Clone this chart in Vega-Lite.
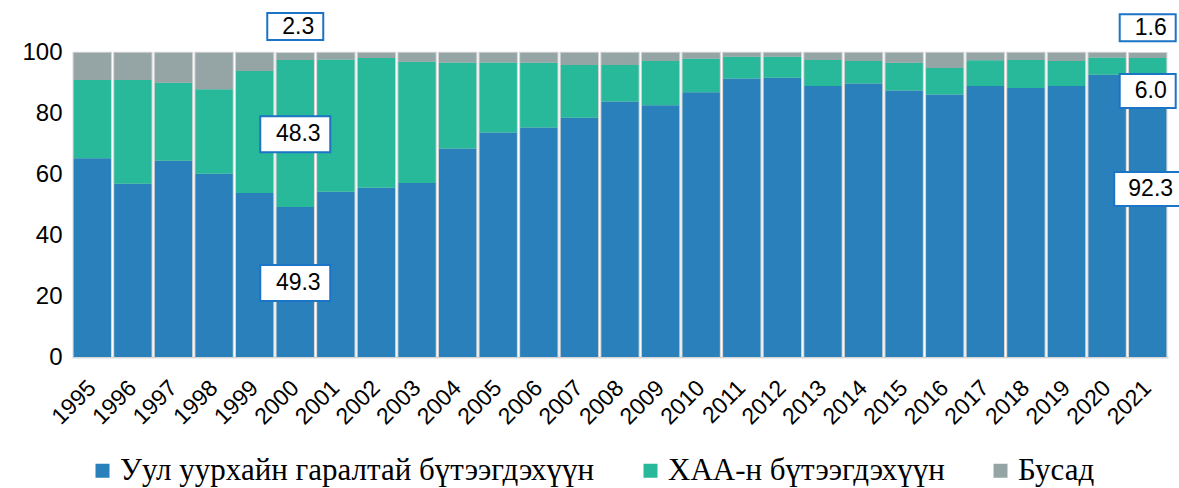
{
  "$schema": "https://vega.github.io/schema/vega-lite/v6.json",
  "width": 1096,
  "height": 356,
  "autosize": "none",
  "padding": {"left": 72, "top": 1, "right": 11, "bottom": 131},
  "background": "white",
  "config": {
    "view": {"stroke": null},
    "font": "Liberation Sans",
    "axisY": {"domain": false, "ticks": false, "tickSize": 0, "grid": false, "labelFontSize": 24, "labelPadding": 10, "labelColor": "#000000", "tickCount": 6, "labelFont": "Liberation Sans"},
    "axisX": {"domain": true, "domainColor": "#d9d9d9", "domainWidth": 2, "ticks": false, "tickSize": 0, "grid": false, "labelAngle": -45, "labelAlign": "right", "labelBaseline": "middle", "labelPadding": 27, "labelFontSize": 23, "labelColor": "#000000", "labelFont": "Liberation Sans"}
  },
  "datasets": {
    "shares": [
      {"year": "1995", "cat": "Уул уурхайн гаралтай бүтээгдэхүүн", "k": 1, "value": 65.3},
      {"year": "1995", "cat": "ХАА-н бүтээгдэхүүн", "k": 2, "value": 25.7},
      {"year": "1995", "cat": "Бусад", "k": 3, "value": 9.0},
      {"year": "1996", "cat": "Уул уурхайн гаралтай бүтээгдэхүүн", "k": 1, "value": 56.9},
      {"year": "1996", "cat": "ХАА-н бүтээгдэхүүн", "k": 2, "value": 34.1},
      {"year": "1996", "cat": "Бусад", "k": 3, "value": 9.0},
      {"year": "1997", "cat": "Уул уурхайн гаралтай бүтээгдэхүүн", "k": 1, "value": 64.5},
      {"year": "1997", "cat": "ХАА-н бүтээгдэхүүн", "k": 2, "value": 25.6},
      {"year": "1997", "cat": "Бусад", "k": 3, "value": 9.9},
      {"year": "1998", "cat": "Уул уурхайн гаралтай бүтээгдэхүүн", "k": 1, "value": 60.2},
      {"year": "1998", "cat": "ХАА-н бүтээгдэхүүн", "k": 2, "value": 27.8},
      {"year": "1998", "cat": "Бусад", "k": 3, "value": 12.0},
      {"year": "1999", "cat": "Уул уурхайн гаралтай бүтээгдэхүүн", "k": 1, "value": 53.9},
      {"year": "1999", "cat": "ХАА-н бүтээгдэхүүн", "k": 2, "value": 40.1},
      {"year": "1999", "cat": "Бусад", "k": 3, "value": 6.0},
      {"year": "2000", "cat": "Уул уурхайн гаралтай бүтээгдэхүүн", "k": 1, "value": 49.3},
      {"year": "2000", "cat": "ХАА-н бүтээгдэхүүн", "k": 2, "value": 48.3},
      {"year": "2000", "cat": "Бусад", "k": 3, "value": 2.3},
      {"year": "2001", "cat": "Уул уурхайн гаралтай бүтээгдэхүүн", "k": 1, "value": 54.3},
      {"year": "2001", "cat": "ХАА-н бүтээгдэхүүн", "k": 2, "value": 43.5},
      {"year": "2001", "cat": "Бусад", "k": 3, "value": 2.2},
      {"year": "2002", "cat": "Уул уурхайн гаралтай бүтээгдэхүүн", "k": 1, "value": 55.6},
      {"year": "2002", "cat": "ХАА-н бүтээгдэхүүн", "k": 2, "value": 42.7},
      {"year": "2002", "cat": "Бусад", "k": 3, "value": 1.7},
      {"year": "2003", "cat": "Уул уурхайн гаралтай бүтээгдэхүүн", "k": 1, "value": 57.2},
      {"year": "2003", "cat": "ХАА-н бүтээгдэхүүн", "k": 2, "value": 39.8},
      {"year": "2003", "cat": "Бусад", "k": 3, "value": 3.0},
      {"year": "2004", "cat": "Уул уурхайн гаралтай бүтээгдэхүүн", "k": 1, "value": 68.5},
      {"year": "2004", "cat": "ХАА-н бүтээгдэхүүн", "k": 2, "value": 28.3},
      {"year": "2004", "cat": "Бусад", "k": 3, "value": 3.2},
      {"year": "2005", "cat": "Уул уурхайн гаралтай бүтээгдэхүүн", "k": 1, "value": 73.8},
      {"year": "2005", "cat": "ХАА-н бүтээгдэхүүн", "k": 2, "value": 23.0},
      {"year": "2005", "cat": "Бусад", "k": 3, "value": 3.2},
      {"year": "2006", "cat": "Уул уурхайн гаралтай бүтээгдэхүүн", "k": 1, "value": 75.4},
      {"year": "2006", "cat": "ХАА-н бүтээгдэхүүн", "k": 2, "value": 21.3},
      {"year": "2006", "cat": "Бусад", "k": 3, "value": 3.3},
      {"year": "2007", "cat": "Уул уурхайн гаралтай бүтээгдэхүүн", "k": 1, "value": 78.6},
      {"year": "2007", "cat": "ХАА-н бүтээгдэхүүн", "k": 2, "value": 17.4},
      {"year": "2007", "cat": "Бусад", "k": 3, "value": 4.0},
      {"year": "2008", "cat": "Уул уурхайн гаралтай бүтээгдэхүүн", "k": 1, "value": 84.0},
      {"year": "2008", "cat": "ХАА-н бүтээгдэхүүн", "k": 2, "value": 12.0},
      {"year": "2008", "cat": "Бусад", "k": 3, "value": 4.0},
      {"year": "2009", "cat": "Уул уурхайн гаралтай бүтээгдэхүүн", "k": 1, "value": 82.7},
      {"year": "2009", "cat": "ХАА-н бүтээгдэхүүн", "k": 2, "value": 14.6},
      {"year": "2009", "cat": "Бусад", "k": 3, "value": 2.7},
      {"year": "2010", "cat": "Уул уурхайн гаралтай бүтээгдэхүүн", "k": 1, "value": 87.0},
      {"year": "2010", "cat": "ХАА-н бүтээгдэхүүн", "k": 2, "value": 11.1},
      {"year": "2010", "cat": "Бусад", "k": 3, "value": 1.9},
      {"year": "2011", "cat": "Уул уурхайн гаралтай бүтээгдэхүүн", "k": 1, "value": 91.5},
      {"year": "2011", "cat": "ХАА-н бүтээгдэхүүн", "k": 2, "value": 7.2},
      {"year": "2011", "cat": "Бусад", "k": 3, "value": 1.3},
      {"year": "2012", "cat": "Уул уурхайн гаралтай бүтээгдэхүүн", "k": 1, "value": 91.8},
      {"year": "2012", "cat": "ХАА-н бүтээгдэхүүн", "k": 2, "value": 6.9},
      {"year": "2012", "cat": "Бусад", "k": 3, "value": 1.3},
      {"year": "2013", "cat": "Уул уурхайн гаралтай бүтээгдэхүүн", "k": 1, "value": 89.1},
      {"year": "2013", "cat": "ХАА-н бүтээгдэхүүн", "k": 2, "value": 8.5},
      {"year": "2013", "cat": "Бусад", "k": 3, "value": 2.4},
      {"year": "2014", "cat": "Уул уурхайн гаралтай бүтээгдэхүүн", "k": 1, "value": 89.9},
      {"year": "2014", "cat": "ХАА-н бүтээгдэхүүн", "k": 2, "value": 7.4},
      {"year": "2014", "cat": "Бусад", "k": 3, "value": 2.7},
      {"year": "2015", "cat": "Уул уурхайн гаралтай бүтээгдэхүүн", "k": 1, "value": 87.6},
      {"year": "2015", "cat": "ХАА-н бүтээгдэхүүн", "k": 2, "value": 9.1},
      {"year": "2015", "cat": "Бусад", "k": 3, "value": 3.3},
      {"year": "2016", "cat": "Уул уурхайн гаралтай бүтээгдэхүүн", "k": 1, "value": 86.3},
      {"year": "2016", "cat": "ХАА-н бүтээгдэхүүн", "k": 2, "value": 8.7},
      {"year": "2016", "cat": "Бусад", "k": 3, "value": 5.0},
      {"year": "2017", "cat": "Уул уурхайн гаралтай бүтээгдэхүүн", "k": 1, "value": 89.1},
      {"year": "2017", "cat": "ХАА-н бүтээгдэхүүн", "k": 2, "value": 8.4},
      {"year": "2017", "cat": "Бусад", "k": 3, "value": 2.5},
      {"year": "2018", "cat": "Уул уурхайн гаралтай бүтээгдэхүүн", "k": 1, "value": 88.4},
      {"year": "2018", "cat": "ХАА-н бүтээгдэхүүн", "k": 2, "value": 9.2},
      {"year": "2018", "cat": "Бусад", "k": 3, "value": 2.4},
      {"year": "2019", "cat": "Уул уурхайн гаралтай бүтээгдэхүүн", "k": 1, "value": 89.1},
      {"year": "2019", "cat": "ХАА-н бүтээгдэхүүн", "k": 2, "value": 8.2},
      {"year": "2019", "cat": "Бусад", "k": 3, "value": 2.7},
      {"year": "2020", "cat": "Уул уурхайн гаралтай бүтээгдэхүүн", "k": 1, "value": 92.8},
      {"year": "2020", "cat": "ХАА-н бүтээгдэхүүн", "k": 2, "value": 5.6},
      {"year": "2020", "cat": "Бусад", "k": 3, "value": 1.6},
      {"year": "2021", "cat": "Уул уурхайн гаралтай бүтээгдэхүүн", "k": 1, "value": 92.3},
      {"year": "2021", "cat": "ХАА-н бүтээгдэхүүн", "k": 2, "value": 6.0},
      {"year": "2021", "cat": "Бусад", "k": 3, "value": 1.6}
    ],
    "labels": [
      {"year": "2000", "t": "2.3", "pos": 108.6, "box": "s"},
      {"year": "2000", "t": "48.3", "pos": 73.2, "box": "l"},
      {"year": "2000", "t": "49.3", "pos": 24.3, "box": "l"},
      {"year": "2021", "t": "1.6", "pos": 108.2, "box": "s"},
      {"year": "2021", "t": "6.0", "pos": 87.4, "box": "m"},
      {"year": "2021", "t": "92.3", "pos": 55.2, "box": "w"}
    ]
  },
  "encoding": {
    "x": {"field": "year", "type": "ordinal", "title": null, "scale": {"paddingInner": 0.08, "paddingOuter": 0.04}}
  },
  "layer": [
    {
      "data": {"name": "shares"},
      "mark": {"type": "bar", "fill": "#d6d6d6", "stroke": "#d6d6d6", "strokeWidth": 2.2},
      "encoding": {
        "y": {"aggregate": "sum", "field": "value", "type": "quantitative", "title": null, "scale": {"domain": [0, 117], "nice": false}}
      }
    },
    {
      "data": {"name": "shares"},
      "mark": {"type": "bar"},
      "encoding": {
        "y": {"field": "value", "type": "quantitative", "stack": "zero", "title": null, "scale": {"domain": [0, 117], "nice": false}},
        "color": {
          "field": "cat", "type": "nominal",
          "scale": {"domain": ["Уул уурхайн гаралтай бүтээгдэхүүн", "ХАА-н бүтээгдэхүүн", "Бусад"], "range": ["#2980ba", "#27b99a", "#95a5a5"]},
          "legend": {"title": null, "orient": "none", "legendX": 15, "legendY": 454, "direction": "horizontal", "symbolType": "square", "symbolSize": 196, "symbolStrokeWidth": 0, "labelFont": "Liberation Serif", "labelFontSize": 31, "labelColor": "#000000", "labelOffset": 2, "columnPadding": 40, "labelLimit": 1000, "padding": 0}
        },
        "order": {"field": "k", "type": "quantitative", "sort": "ascending"}
      }
    },
    {
      "data": {"name": "labels"},
      "transform": [{"filter": "datum.box == 's'"}],
      "mark": {"type": "point", "shape": "M-1,-0.482L1,-0.482L1,0.482L-1,0.482Z", "size": 3136, "filled": true, "fill": "#ffffff", "stroke": "#1c74c6", "strokeWidth": 2, "opacity": 1},
      "encoding": {"y": {"field": "pos", "type": "quantitative", "title": null, "scale": {"domain": [0, 117], "nice": false}}}
    },
    {
      "data": {"name": "labels"},
      "transform": [{"filter": "datum.box == 'l'"}],
      "mark": {"type": "point", "shape": "M-1,-0.514L1,-0.514L1,0.514L-1,0.514Z", "size": 4900, "filled": true, "fill": "#ffffff", "stroke": "#1c74c6", "strokeWidth": 2, "opacity": 1},
      "encoding": {"y": {"field": "pos", "type": "quantitative", "title": null, "scale": {"domain": [0, 117], "nice": false}}}
    },
    {
      "data": {"name": "labels"},
      "transform": [{"filter": "datum.box == 'm'"}],
      "mark": {"type": "point", "shape": "M-1,-0.607L1,-0.607L1,0.607L-1,0.607Z", "size": 3136, "filled": true, "fill": "#ffffff", "stroke": "#1c74c6", "strokeWidth": 2, "opacity": 1},
      "encoding": {"y": {"field": "pos", "type": "quantitative", "title": null, "scale": {"domain": [0, 117], "nice": false}}}
    },
    {
      "data": {"name": "labels"},
      "transform": [{"filter": "datum.box == 'w'"}],
      "mark": {"type": "point", "shape": "M-1,-0.507L1,-0.507L1,0.507L-1,0.507Z", "size": 4489, "filled": true, "fill": "#ffffff", "stroke": "#1c74c6", "strokeWidth": 2, "opacity": 1},
      "encoding": {"y": {"field": "pos", "type": "quantitative", "title": null, "scale": {"domain": [0, 117], "nice": false}}}
    },
    {
      "data": {"name": "labels"},
      "mark": {"type": "text", "font": "Liberation Sans", "fontSize": 23, "color": "#000000", "align": "center", "baseline": "middle", "dx": 3},
      "encoding": {
        "y": {"field": "pos", "type": "quantitative", "title": null, "scale": {"domain": [0, 117], "nice": false}},
        "text": {"field": "t", "type": "nominal"}
      }
    }
  ]
}
